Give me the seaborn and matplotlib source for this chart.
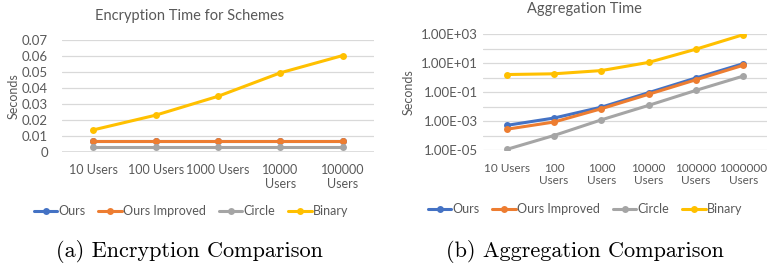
import pandas as pd
import matplotlib.pyplot as plt
import matplotlib.ticker as mticker
import seaborn as sns

# ---- data ----
schemes = ["Ours", "Ours Improved", "Circle", "Binary"]
colors = ["#4472C4", "#ED7D31", "#A5A5A5", "#FFC000"]

enc_users = ["10 Users", "100 Users", "1000 Users", "10000\nUsers", "100000\nUsers"]
enc_ours = [0.0068, 0.0068, 0.0068, 0.0068, 0.0068]
enc_improved = [0.0068, 0.0068, 0.0068, 0.0068, 0.0068]
enc_circle = [0.0033, 0.0033, 0.0033, 0.0033, 0.0033]
enc_binary = [0.0138, 0.0230, 0.0348, 0.0495, 0.0603]

agg_users = ["10 Users", "100\nUsers", "1000\nUsers", "10000\nUsers", "100000\nUsers", "1000000\nUsers"]
agg_ours = [5.0e-4, 1.6e-3, 9.0e-3, 0.09, 0.93, 9.0]
agg_improved = [2.7e-4, 8.5e-4, 7.0e-3, 0.07, 0.70, 7.0]
agg_circle = [1.1e-5, 1.0e-4, 1.2e-3, 0.012, 0.13, 1.26]
agg_binary = [1.6, 1.8, 3.0, 11.0, 90.0, 900.0]

TXT = "#595959"
GRID = "#D9D9D9"
W, H = 768, 264


def long_df(users, series):
    rows = []
    for name, vals in zip(schemes, series):
        for u, v in zip(users, vals):
            rows.append({"users": u, "scheme": name, "seconds": v})
    return pd.DataFrame(rows)


def draw(ax, df, n, xsize):
    sns.lineplot(data=df, x="users", y="seconds", hue="scheme", hue_order=schemes,
                 palette=colors, marker="o", markersize=5, markeredgewidth=0,
                 linewidth=2.2, ax=ax, sort=False)
    ax.set_xlim(-0.5, n - 0.5)
    ax.set_xlabel("")
    ax.set_ylabel("Seconds", color=TXT, fontsize=9)
    for s in ax.spines.values():
        s.set_visible(False)
    ax.grid(axis="y", color=GRID, linewidth=0.9)
    ax.grid(axis="x", visible=False)
    ax.tick_params(length=0, colors=TXT, labelsize=9.5)
    ax.tick_params(axis="x", pad=9, labelsize=xsize)
    h, l = ax.get_legend_handles_labels()
    ax.get_legend().remove()
    return h, l


def add_legend(fig, h, l, cx, cy):
    fig.legend(h, l, loc="center", bbox_to_anchor=(cx / W, (H - cy) / H), ncol=4,
               frameon=False, fontsize=9, handlelength=1.9, columnspacing=1.0,
               handletextpad=0.1, labelcolor=TXT)


def main():
    sns.set_style("white")
    plt.rcParams["font.family"] = ["Lato", "DejaVu Sans"]

    fig = plt.figure(figsize=(7.68, 2.64), dpi=100)

    # ---- (a) encryption ----
    ax1 = fig.add_axes([62 / W, (H - 152) / H, (374 - 62) / W, (152 - 40) / H])
    df1 = long_df(enc_users, [enc_ours, enc_improved, enc_circle, enc_binary])
    h, l = draw(ax1, df1, len(enc_users), 9)
    ax1.set_ylim(0, 0.07)
    ax1.set_yticks([0, 0.01, 0.02, 0.03, 0.04, 0.05, 0.06, 0.07])
    ax1.set_yticklabels(["0", "0.01", "0.02", "0.03", "0.04", "0.05", "0.06", "0.07"])
    ax1.tick_params(axis="y", pad=10)
    ax1.axhline(0, color=GRID, linewidth=1.2)
    ax1.yaxis.set_label_coords(-0.135, 0.5)
    fig.text(190 / W, (H - 16) / H, "Encryption Time for Schemes", ha="center",
             va="center", color=TXT, fontsize=10.5)
    add_legend(fig, h, l, 191, 211)

    # ---- (b) aggregation ----
    ax2 = fig.add_axes([483 / W, (H - 150) / H, (767 - 483) / W, (150 - 34) / H])
    df2 = long_df(agg_users, [agg_ours, agg_improved, agg_circle, agg_binary])
    h, l = draw(ax2, df2, len(agg_users), 8.5)
    ax2.set_yscale("log")
    ax2.set_ylim(1e-5, 1e3)
    ax2.yaxis.set_major_locator(mticker.FixedLocator([1e-5, 1e-3, 1e-1, 1e1, 1e3]))
    ax2.yaxis.set_minor_locator(mticker.FixedLocator([1e-4, 1e-2, 1e0, 1e2]))
    ax2.yaxis.set_major_formatter(mticker.FuncFormatter(lambda v, p: "%.2E" % v))
    ax2.yaxis.set_minor_formatter(mticker.NullFormatter())
    ax2.grid(axis="y", which="minor", color=GRID, linewidth=0.9)
    ax2.tick_params(which="minor", length=0)
    ax2.yaxis.set_label_coords(-0.24, 0.5)
    fig.text(584 / W, (H - 9) / H, "Aggregation Time", ha="center", va="center",
             color=TXT, fontsize=10.5)
    add_legend(fig, h, l, 585, 209)

    # ---- captions ----
    fig.text(189 / W, (H - 257) / H, "(a) Encryption Comparison", ha="center",
             va="baseline", fontsize=16, family="cmr10", color="black")
    fig.text(585 / W, (H - 257) / H, "(b) Aggregation Comparison", ha="center",
             va="baseline", fontsize=16, family="cmr10", color="black")

    fig.savefig("out.png", dpi=100)


if __name__ == "__main__":
    main()
